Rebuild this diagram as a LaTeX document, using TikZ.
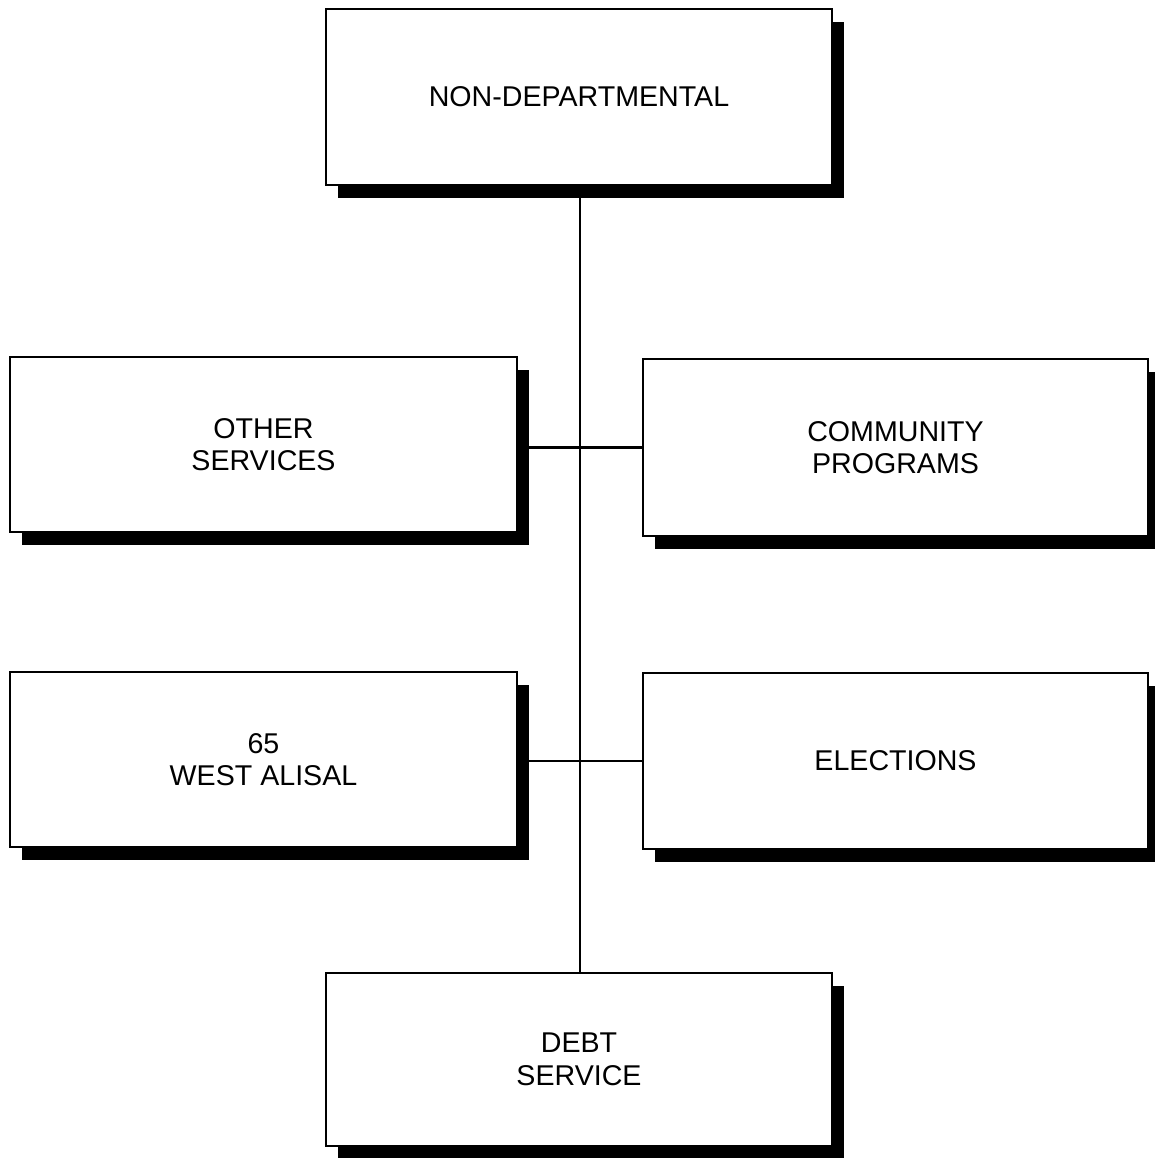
\documentclass[tikz,border=0pt]{standalone}
\usepackage{fontspec}
\setmainfont{Liberation Sans}
\usetikzlibrary{shadows}
\begin{document}
\begin{tikzpicture}[x=1pt,y=-1pt,
  unit/.style={draw=black, line width=2.3pt, fill=white, align=center,
    inner sep=0pt, font=\fontsize{28.6}{32.5}\selectfont,
    drop shadow={shadow xshift=12pt, shadow yshift=-13pt, fill=black, opacity=1}},
  link/.style={draw=black, line width=2.2pt}]
\useasboundingbox (0,0) rectangle (1155,1158);
\node[unit, minimum width=506pt, minimum height=176pt] (nd) at (579,97) {NON-DEPARTMENTAL};
\node[unit, minimum width=507pt, minimum height=175pt] (os) at (263.5,444.5) {OTHER\\SERVICES};
\node[unit, minimum width=505pt, minimum height=177pt] (cp) at (895.5,447.5) {COMMUNITY\\PROGRAMS};
\node[unit, minimum width=507pt, minimum height=175pt] (wa) at (263.5,759.5) {65\\WEST ALISAL};
\node[unit, minimum width=505pt, minimum height=176pt] (el) at (895.5,761) {ELECTIONS};
\node[unit, minimum width=506pt, minimum height=173pt] (ds) at (579,1059.5) {DEBT\\SERVICE};
\draw[link] (nd.south -| 580,0) -- (ds.north -| 580,0);
\draw[link] (cp.west) -- (os.east |- cp.west);
\draw[link] (el.west) -- (wa.east |- el.west);
\end{tikzpicture}
\end{document}
